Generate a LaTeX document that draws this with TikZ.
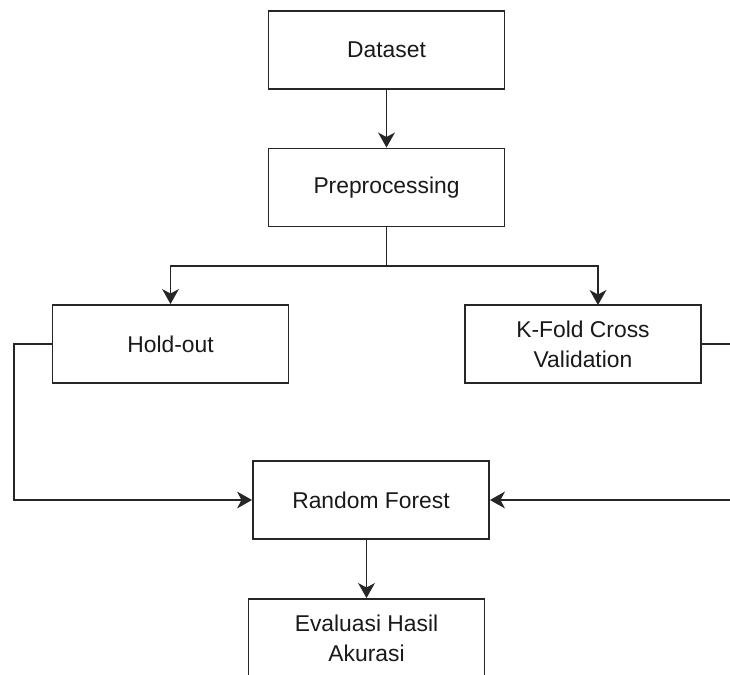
\documentclass[tikz,border=0pt]{standalone}
\usepackage{fontspec}
\setmainfont{Liberation Sans}
\usepackage{tikz}
\usetikzlibrary{arrows.meta}

\tikzset{
    box/.style={draw=black!85, line width=1.1pt, minimum width=4.72cm, minimum height=1.56cm,
        align=center, text=black!90, font=\fontsize{13}{17}\selectfont, inner sep=0pt},
    arr/.style={draw=black!85, line width=1.1pt, -{Stealth[length=8.5pt,width=9.5pt,inset=2.5pt]}},
    lin/.style={draw=black!85, line width=1.1pt}
}

\begin{document}
\begin{tikzpicture}[x=0.02cm, y=-0.02cm]
                \useasboundingbox (0,0) rectangle (730,674);
                \node[box] (dataset) at (386.5,50) {Dataset};
                \node[box] (prep) at (386.5,187.5) {Preprocessing};
                \node[box] (holdout) at (170.5,344) {Hold-out};
                \node[box] (kfold) at (583,344) {K-Fold Cross\\Validation};
                \node[box] (rf) at (371,500) {Random Forest};
                \node[box] (eval) at (366.5,638) {Evaluasi Hasil\\Akurasi};
                % titik bantu
                \coordinate (split) at (386.5,266);
                \coordinate (kin) at (598,305);
                \coordinate (lft) at (14,0);
                \coordinate (rgt) at (760,0);
                \draw[arr] (dataset) -- (prep);
                \draw[lin] (prep.south) -- (split);
                \draw[arr] (split) -| (holdout.north);
                \draw[arr] (split) -| (kin);
                \draw[arr] (holdout.west) -- (holdout.west -| lft) |- (rf.west);
                \draw[arr] (kfold.east) -- (kfold.east -| rgt) |- (rf.east);
                \draw[arr] (rf.south -| eval.north) -- (eval.north);
            \end{tikzpicture}
\end{document}
